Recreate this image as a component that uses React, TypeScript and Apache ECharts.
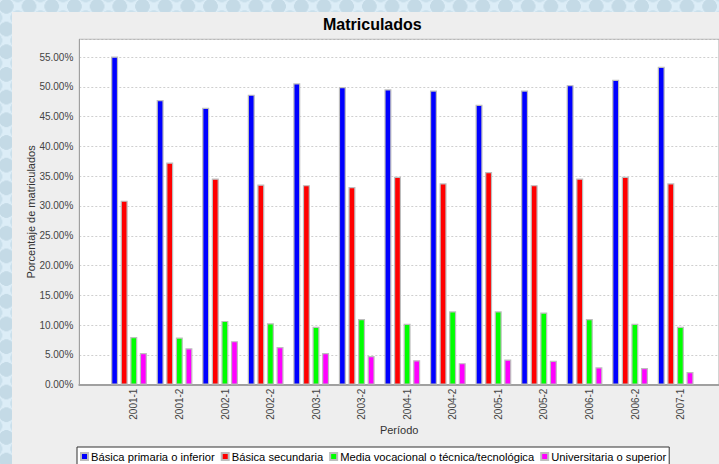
import React, { useEffect, useRef } from 'react';
import * as echarts from 'echarts';

const periods = ['2001-1', '2001-2', '2002-1', '2002-2', '2003-1', '2003-2', '2004-1', '2004-2', '2005-1', '2005-2', '2006-1', '2006-2', '2007-1'];
const basicaPrimaria = [55.1, 47.8, 46.5, 48.7, 50.6, 50.0, 49.6, 49.4, 47.0, 49.4, 50.3, 51.2, 53.4];
const basicaSecundaria = [30.9, 37.3, 34.6, 33.6, 33.5, 33.2, 34.9, 33.8, 35.7, 33.5, 34.6, 34.9, 33.8];
const mediaVocacional = [8.0, 7.9, 10.7, 10.3, 9.7, 11.0, 10.2, 12.3, 12.3, 12.1, 11.0, 10.2, 9.7];
const universitaria = [5.3, 6.1, 7.3, 6.3, 5.3, 4.8, 4.1, 3.6, 4.2, 4.0, 2.9, 2.8, 2.1];
const seriesNames = ['Básica primaria o inferior', 'Básica secundaria', 'Media vocacional o técnica/tecnológica', 'Universitaria o superior'];
const seriesColors = ['#0000ff', '#ff0000', '#00ff00', '#ff00ff'];
const yMin = 0;
const yMax = 58;
const yInterval = 5;

const FONT = 'Liberation Sans, Arial, sans-serif';

export default function App() {
  const ref = useRef<HTMLDivElement>(null);
  useEffect(() => {
    const chart = echarts.init(ref.current!, null, { renderer: 'svg' });
    const values = [basicaPrimaria, basicaSecundaria, mediaVocacional, universitaria];
    chart.setOption({
      animation: false,
      backgroundColor: 'transparent',
      textStyle: { fontFamily: FONT },
      graphic: [
        {
          type: 'rect',
          z: -100,
          silent: true,
          shape: { x: 12, y: 12, width: 730, height: 470 },
          style: { fill: '#eeeeee' },
        },
      ],
      title: {
        text: 'Matriculados',
        left: 323,
        top: 15,
        padding: 0,
        textStyle: { fontFamily: FONT, fontSize: 16, fontWeight: 'bold', color: '#000', lineHeight: 18 },
      },
      legend: {
        left: 77,
        top: 447,
        orient: 'horizontal',
        padding: [4, 3, 6, 3],
        itemGap: 6,
        itemWidth: 7,
        itemHeight: 7,
        icon: 'rect',
        borderColor: '#333',
        borderWidth: 1,
        backgroundColor: '#ffffff',
        borderRadius: 0,
        textStyle: { fontFamily: FONT, fontSize: 11.2, color: '#000', padding: [0, 0, 0, -2] },
        data: seriesNames,
      },
      grid: [
        {
          left: 79.3,
          top: 39.3,
          right: -7,
          bottom: 79.4,
          show: true,
          backgroundColor: '#ffffff',
          borderColor: '#a8a8a8',
          borderWidth: 1,
        },
        {
          left: 106.2,
          top: 39.3,
          right: 20.6,
          bottom: 79.4,
        },
      ],
      xAxis: [
        {
          gridIndex: 0,
          type: 'value',
          min: 0,
          max: 1,
          axisLine: { show: true, lineStyle: { color: '#a0a0a0', width: 2 } },
          axisTick: { show: false },
          axisLabel: { show: false },
          splitLine: { show: false },
          name: 'Período',
          nameLocation: 'middle',
          nameGap: 40,
          nameMoveOverlap: false,
          nameTextStyle: { fontFamily: FONT, fontSize: 11, color: '#333' },
        },
        {
          gridIndex: 1,
          type: 'category',
          data: periods,
          boundaryGap: true,
          axisLine: { show: false },
          axisTick: { show: false },
          axisLabel: {
            rotate: 90,
            interval: 0,
            margin: 4,
            verticalAlign: 'top',
            fontFamily: FONT,
            fontSize: 10,
            color: '#444',
          },
        },
      ],
      yAxis: [
        {
          gridIndex: 0,
          type: 'value',
          min: yMin,
          max: yMax,
          interval: yInterval,
          axisLine: { show: true, lineStyle: { color: '#a0a0a0', width: 1 } },
          axisTick: { show: false },
          axisLabel: {
            margin: 6,
            showMaxLabel: false,
            fontFamily: FONT,
            fontSize: 10,
            color: '#444',
            formatter: (v: number) => (v % yInterval === 0 ? v.toFixed(2) + '%' : ''),
          },
          splitLine: { show: true, lineStyle: { color: '#cfcfcf', type: [2, 2], width: 1 } },
          name: 'Porcentaje de matriculados',
          nameLocation: 'middle',
          nameGap: 43,
          nameMoveOverlap: false,
          nameTextStyle: { fontFamily: FONT, fontSize: 11, color: '#333' },
        },
        {
          gridIndex: 1,
          type: 'value',
          min: yMin,
          max: yMax,
          show: false,
          splitLine: { show: false },
        },
      ],
      series: seriesNames.map((name, i) => ({
        name,
        type: 'bar',
        xAxisIndex: 1,
        yAxisIndex: 1,
        data: values[i],
        barWidth: 7,
        barGap: '37%',
        itemStyle: { color: seriesColors[i], borderColor: '#bdbdbd', borderWidth: 1.2 },
      })),
    });
    return () => chart.dispose();
  }, []);

  const bubbles =
    'radial-gradient(circle at 50% 50%, #c4dae6 0, #c4dae6 7px, rgba(0,0,0,0) 7.5px), radial-gradient(circle at 50% 50%, #c9dfeb 0, #c9dfeb 7px, rgba(0,0,0,0) 7.5px)';

  return (
    <div
      style={{
        position: 'fixed',
        left: 0,
        top: 0,
        width: 719,
        height: 464,
        overflow: 'hidden',
        backgroundColor: '#dcedf7',
        backgroundImage: bubbles,
        backgroundSize: '22.7px 22.7px, 22.7px 22.7px',
        backgroundPosition: '-5px -5px, 6.35px 6.35px',
      }}
    >
      <div ref={ref} style={{ width: 719, height: 464 }} />
    </div>
  );
}
